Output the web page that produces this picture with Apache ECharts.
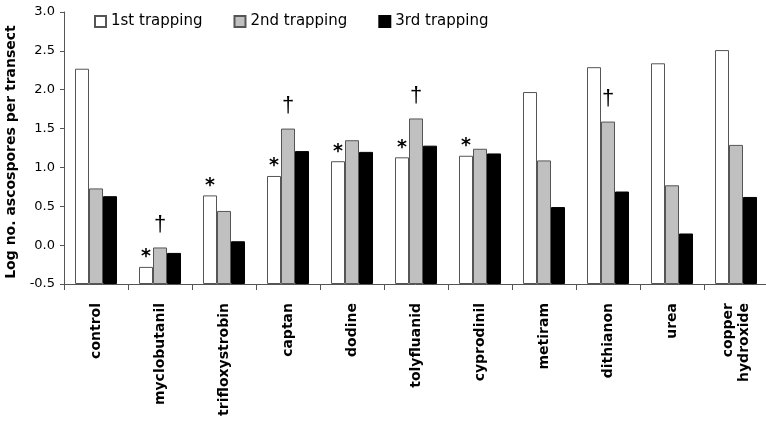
<!DOCTYPE html>
<html>
<head>
<meta charset="utf-8">
<script src="https://cdn.jsdelivr.net/npm/echarts@6/dist/echarts.min.js"></script>
<style>
html,body{margin:0;padding:0;background:#fff;}
#chart{width:766px;height:423px;}
</style>
</head>
<body>
<div id="chart"></div>
<script>
var categories = ['control','myclobutanil','trifloxystrobin','captan','dodine','tolyfluanid','cyprodinil','metiram','dithianon','urea','copper\nhydroxide'];
var seriesNames = ['1st trapping','2nd trapping','3rd trapping'];
var trap1 = [2.27,-0.28,0.64,0.89,1.08,1.13,1.15,1.97,2.29,2.34,2.51];
var trap2 = [0.73,-0.03,0.44,1.50,1.35,1.63,1.24,1.09,1.59,0.77,1.29];
var trap3 = [0.63,-0.10,0.05,1.21,1.20,1.28,1.18,0.49,0.69,0.15,0.62];
var marks1 = ['','*','*','*','*','*','*','','','',''];
var marks2 = ['','\u2020','','\u2020','','\u2020','','','\u2020','',''];
var yTicks = {min:-0.5, max:3.0, step:0.5};

var chart = echarts.init(document.getElementById('chart'));
var FONT = 'DejaVu Sans';
var border = '#555';
function mkLabel(marks, opts){
  return Object.assign({
    show:true, position:'top', color:'#000',
    formatter:function(p){return marks[p.dataIndex];}
  }, opts);
}
chart.setOption({
  animation:false,
  backgroundColor:'#fff',
  textStyle:{fontFamily:FONT},
  legend:{
    left:89, top:9, icon:'rect', itemWidth:11, itemHeight:11, itemGap:31,
    textStyle:{fontFamily:FONT, fontSize:15, color:'#000'},
    data:seriesNames
  },
  grid:{left:64, top:12, width:704, height:272, outerBoundsMode:'none'},
  xAxis:{
    type:'category', data:categories,
    axisLine:{onZero:false, lineStyle:{color:'#555', width:1}},
    axisTick:{show:true, interval:0, length:6, lineStyle:{color:'#555'}},
    axisLabel:{interval:0, rotate:90, margin:19, fontFamily:FONT, fontWeight:'bold', fontSize:14, color:'#000', lineHeight:16}
  },
  yAxis:{
    type:'value', min:yTicks.min, max:yTicks.max, interval:yTicks.step, startValue:yTicks.min,
    name:'Log no. ascospores per transect', nameLocation:'middle', nameGap:40,
    nameTextStyle:{fontFamily:FONT, fontWeight:'bold', fontSize:14, color:'#000', padding:[0,0,0,-8]},
    axisLine:{show:true, lineStyle:{color:'#555', width:1}},
    axisTick:{show:true, length:4, lineStyle:{color:'#555'}},
    splitLine:{show:false},
    axisLabel:{margin:9, fontFamily:FONT, fontSize:13, color:'#000', formatter:function(v){return v.toFixed(1);}}
  },
  series:[
    {name:seriesNames[0], type:'bar', data:trap1, barWidth:14, barGap:'0%',
     itemStyle:{color:'#ffffff', borderColor:border, borderWidth:1},
     label:mkLabel(marks1,{fontFamily:FONT, fontWeight:'bold', fontSize:19, distance:0})},
    {name:seriesNames[1], type:'bar', data:trap2, barWidth:14, barGap:'0%',
     itemStyle:{color:'#c0c0c0', borderColor:border, borderWidth:1},
     label:mkLabel(marks2,{fontFamily:'Liberation Sans', fontSize:22, distance:12})},
    {name:seriesNames[2], type:'bar', data:trap3, barWidth:14, barGap:'0%',
     itemStyle:{color:'#000000', borderColor:'#000', borderWidth:1}}
  ]
});
</script>
</body>
</html>
